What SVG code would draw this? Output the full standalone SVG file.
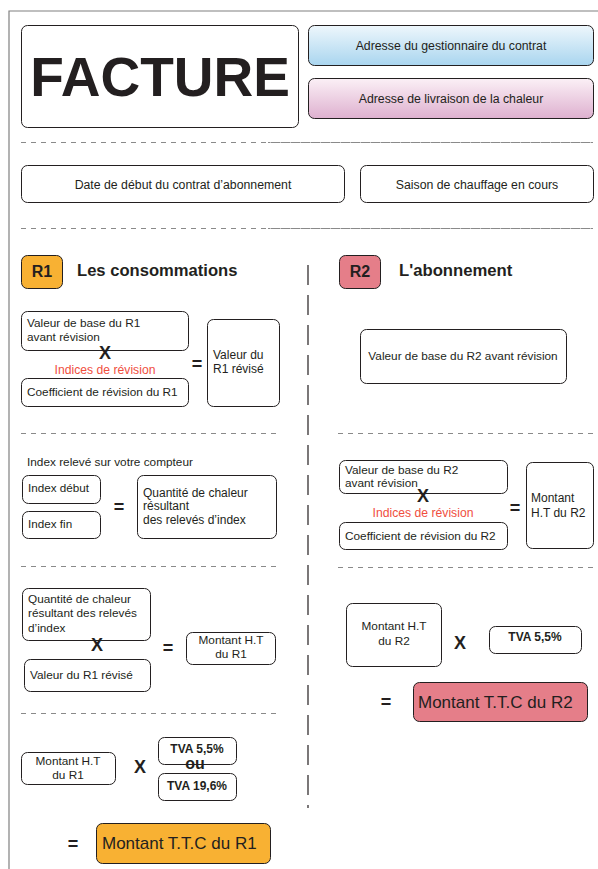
<svg xmlns="http://www.w3.org/2000/svg" width="598" height="869" viewBox="0 0 598 869">
<defs>
<linearGradient id="gBlue" x1="0" y1="0" x2="0" y2="1"><stop offset="0" stop-color="#eef7fc"/><stop offset="1" stop-color="#a9d5ef"/></linearGradient>
<linearGradient id="gPink" x1="0" y1="0" x2="0" y2="1"><stop offset="0" stop-color="#fbf0f6"/><stop offset="1" stop-color="#deb0cf"/></linearGradient>
<style>
text{font-family:"Liberation Sans",Arial,sans-serif;fill:#231f20}
.box{fill:#fff;stroke:#231f20;stroke-width:1}
.t{font-size:11.8px}
.tc{font-size:11.8px;text-anchor:middle}
.hdr{font-size:12.3px;text-anchor:middle}
.op{font-size:18px;font-weight:bold;text-anchor:middle}
.red{font-size:12.2px;fill:#f04e3e;text-anchor:middle}
.tva{font-size:12px;font-weight:bold;text-anchor:middle}
.hd{stroke:#8a8a8a;stroke-width:1;stroke-dasharray:5 5;fill:none}
.vd{stroke:#231f20;stroke-width:1.2;stroke-dasharray:20 10;fill:none}
</style>
</defs>
<rect width="598" height="869" fill="#fff"/>
<g id="frame" fill="none" stroke="#808080" stroke-width="1.2">
<path d="M9,869 V11 H598"/>
</g>
<g id="separators">
<line class="hd" x1="21" y1="142.5" x2="593" y2="142.5"/>
<line class="hd" x1="268" y1="142.5" x2="593" y2="142.5" stroke-dashoffset="2.5"/>
<line class="hd" x1="21" y1="228.5" x2="593" y2="228.5"/>
<line class="hd" x1="268" y1="228.5" x2="593" y2="228.5" stroke-dashoffset="2.5"/>
<line class="hd" x1="21" y1="433.5" x2="280" y2="433.5"/>
<line class="hd" x1="21" y1="566.5" x2="278" y2="566.5"/>
<line class="hd" x1="21" y1="713.5" x2="278" y2="713.5"/>
<line class="hd" x1="338" y1="433.5" x2="596" y2="433.5"/>
<line class="hd" x1="338" y1="567.5" x2="596" y2="567.5"/>
<line class="vd" x1="308" y1="265" x2="308" y2="808"/>
</g>
<g id="facture"><rect class="box" x="21.5" y="25.5" width="277" height="102" rx="6"/>
<text x="160" y="96" style="font-size:55px;font-weight:bold;text-anchor:middle">FACTURE</text></g>
<g id="gestionnaire"><rect x="308.5" y="25.5" width="285" height="40" rx="6" fill="url(#gBlue)" stroke="#231f20"/>
<text class="hdr" x="451" y="50">Adresse du gestionnaire du contrat</text></g>
<g id="livraison"><rect x="308.5" y="78.5" width="285" height="40" rx="6" fill="url(#gPink)" stroke="#231f20"/>
<text class="hdr" x="451" y="103">Adresse de livraison de la chaleur</text></g>
<g id="date"><rect class="box" x="21.5" y="165.5" width="323" height="37" rx="6"/>
<text class="hdr" x="183" y="189">Date de début du contrat d’abonnement</text></g>
<g id="saison"><rect class="box" x="360.5" y="165.5" width="233" height="37" rx="6"/>
<text class="hdr" x="477" y="189">Saison de chauffage en cours</text></g>

<g id="r1-title"><rect x="21.5" y="255.5" width="41" height="33" rx="6" fill="#f8b133" stroke="#231f20"/>
<text x="42" y="277" style="font-size:16px;font-weight:bold;text-anchor:middle">R1</text>
<text x="77" y="276" style="font-size:16.6px;font-weight:bold">Les consommations</text></g>
<g id="r2-title"><rect x="339.5" y="255.5" width="41" height="33" rx="6" fill="#e57e89" stroke="#231f20"/>
<text x="360" y="277" style="font-size:16px;font-weight:bold;text-anchor:middle">R2</text>
<text x="399" y="276" style="font-size:16.7px;font-weight:bold">L'abonnement</text></g>

<g id="r1-base"><rect class="box" x="21.5" y="311.5" width="167" height="39" rx="6"/>
<text class="t" x="27" y="327">Valeur de base du R1</text><text class="t" x="27" y="341">avant révision</text></g>
<text class="op" x="105" y="359">X</text>
<text class="red" x="105" y="374">Indices de révision</text>
<g id="r1-coef"><rect class="box" x="21.5" y="378.5" width="167" height="28" rx="6"/>
<text class="t" x="27" y="396">Coefficient de révision du R1</text></g>
<text class="op" x="197" y="370">=</text>
<g id="r1-revise"><rect class="box" x="207.5" y="319.5" width="72" height="87" rx="6"/>
<text x="213" y="359" style="font-size:12px">Valeur du</text><text x="213" y="373" style="font-size:12px">R1 révisé</text></g>

<text class="t" x="27" y="466">Index relevé sur votre compteur</text>
<g id="index-debut"><rect class="box" x="22.5" y="475.5" width="78" height="28" rx="6"/>
<text x="28" y="492" style="font-size:11.7px">Index début</text></g>
<g id="index-fin"><rect class="box" x="22.5" y="511.5" width="78" height="27" rx="6"/>
<text x="28" y="528" style="font-size:11.7px">Index fin</text></g>
<text class="op" x="119" y="513">=</text>
<g id="quantite"><rect class="box" x="137.5" y="475.5" width="139" height="63" rx="6"/>
<text x="143" y="497" style="font-size:12px">Quantité de chaleur</text><text x="143" y="510" style="font-size:12px">résultant</text><text x="143" y="524" style="font-size:12px">des relevés d’index</text></g>

<g id="quantite2"><rect class="box" x="22.5" y="588.5" width="128" height="52" rx="6"/>
<text class="t" x="28" y="603">Quantité de chaleur</text><text class="t" x="28" y="617">résultant des relevés</text><text class="t" x="28" y="632">d’index</text></g>
<text class="op" x="97" y="651">X</text>
<g id="r1-revise2"><rect class="box" x="24.5" y="659.5" width="126" height="32" rx="6"/>
<text class="t" x="30" y="679">Valeur du R1 révisé</text></g>
<text class="op" x="168" y="654">=</text>
<g id="ht-r1"><rect class="box" x="186.5" y="632.5" width="89" height="32" rx="6"/>
<text class="tc" x="231" y="644">Montant H.T</text><text class="tc" x="231" y="658">du R1</text></g>

<g id="ht-r1b"><rect class="box" x="21.5" y="752.5" width="94" height="32" rx="6"/>
<text class="tc" x="68" y="765">Montant H.T</text><text class="tc" x="68" y="779">du R1</text></g>
<text class="op" x="140" y="773">X</text>
<g id="tva55-r1"><rect class="box" x="158.5" y="737.5" width="78" height="27" rx="6"/>
<text class="tva" x="197" y="753">TVA 5,5%</text></g>
<g id="tva196"><rect class="box" x="158.5" y="773.5" width="78" height="27" rx="6"/>
<text class="tva" x="197" y="790">TVA 19,6%</text></g>
<text x="195" y="769" style="font-size:16px;font-weight:bold;text-anchor:middle">ou</text>
<text class="op" x="73" y="850">=</text>
<g id="ttc-r1"><rect x="96.5" y="823.5" width="174" height="40" rx="6" fill="#f8b133" stroke="#231f20"/>
<text x="102" y="849" style="font-size:17px">Montant T.T.C du R1</text></g>

<g id="r2-base"><rect class="box" x="360.5" y="329.5" width="206" height="54" rx="6"/>
<text class="tc" x="463" y="360">Valeur de base du R2 avant révision</text></g>
<g id="r2-base2"><rect class="box" x="339.5" y="460.5" width="168" height="33" rx="6"/>
<text class="t" x="345" y="474">Valeur de base du R2</text><text class="t" x="345" y="487">avant révision</text></g>
<text class="op" x="423" y="502">X</text>
<text class="red" x="423" y="517">Indices de révision</text>
<g id="r2-coef"><rect class="box" x="339.5" y="522.5" width="168" height="27" rx="6"/>
<text class="t" x="345" y="540">Coefficient de révision du R2</text></g>
<text class="op" x="515" y="514">=</text>
<g id="ht-r2"><rect class="box" x="526.5" y="462.5" width="67" height="86" rx="6"/>
<text x="531" y="502" style="font-size:12px">Montant</text><text x="531" y="517" style="font-size:12px">H.T du R2</text></g>

<g id="ht-r2b"><rect class="box" x="346.5" y="603.5" width="95" height="63" rx="6"/>
<text class="tc" x="394" y="630">Montant H.T</text><text class="tc" x="394" y="645">du R2</text></g>
<text class="op" x="460" y="649">X</text>
<g id="tva55-r2"><rect class="box" x="489.5" y="626.5" width="92" height="27" rx="6"/>
<text class="tva" x="535" y="641">TVA 5,5%</text></g>
<text class="op" x="386" y="708">=</text>
<g id="ttc-r2"><rect x="413.5" y="682.5" width="174" height="39" rx="6" fill="#e57e89" stroke="#231f20"/>
<text x="418" y="708" style="font-size:17px">Montant T.T.C du R2</text></g>
</svg>
